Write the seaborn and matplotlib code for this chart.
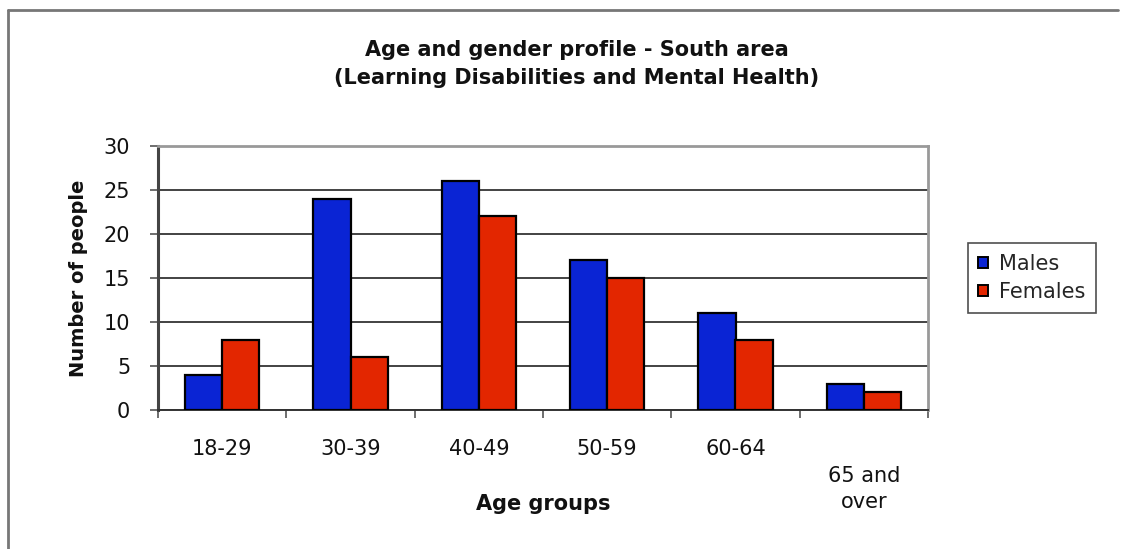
import matplotlib
matplotlib.use("Agg")
import matplotlib.pyplot as plt
import matplotlib.lines as mlines
import seaborn as sns
import pandas as pd
import numpy as np

categories = ["18-29", "30-39", "40-49", "50-59", "60-64", "65 and over"]
tick_labels = ["18-29", "30-39", "40-49", "50-59", "60-64", "\n65 and\nover"]
males = [4, 24, 26, 17, 11, 3]
females = [8, 6, 22, 15, 8, 2]
series_names = ["Males", "Females"]
colors = ["#0a24d4", "#e32600"]

sns.set_theme(style="white")
plt.rcParams["font.family"] = ["DejaVu Sans"]

df = pd.DataFrame({
    "Age groups": categories * 2,
    "Number of people": males + females,
    "Series": [series_names[0]] * len(categories) + [series_names[1]] * len(categories),
})

W, H = 1121, 549
fig = plt.figure(figsize=(W / 100, H / 100), dpi=100)
ax = fig.add_axes([158 / W, 1 - 410 / H, (928 - 158) / W, (410 - 146) / H])

sns.barplot(data=df, x="Age groups", y="Number of people", hue="Series",
            palette=colors, width=0.58, edgecolor="black", linewidth=1.6,
            saturation=1, ax=ax, zorder=3)

ax.set_xlim(-0.5, 5.5)
ax.set_ylim(0, 30)
ax.set_yticks(np.arange(0, 31, 5))
ax.yaxis.grid(True, color="#222222", linewidth=1.2, zorder=0)
ax.tick_params(axis="y", length=6, width=1.2, color="#555555", pad=14,
               labelsize=15, labelcolor="#111111", left=True)

# category labels centred, ticks on category boundaries
ax.set_xticks(np.arange(-0.5, 6, 1))
ax.set_xticklabels([])
ax.set_xticks(np.arange(6), minor=True)
ax.set_xticklabels(tick_labels, minor=True, fontsize=15, color="#111111",
                   linespacing=1.4)
ax.tick_params(axis="x", which="major", length=6, width=1.2, color="#555555",
               bottom=True)
ax.tick_params(axis="x", which="minor", length=0, pad=21)

ax.spines["left"].set_color("#444444")
ax.spines["left"].set_linewidth(2.2)
ax.spines["bottom"].set_color("#333333")
ax.spines["bottom"].set_linewidth(1.4)
ax.spines["right"].set_color("#999999")
ax.spines["right"].set_linewidth(2)
ax.spines["top"].set_color("#999999")
ax.spines["top"].set_linewidth(2)

ax.set_xlabel("Age groups", fontsize=15, fontweight="bold", color="#111111")
ax.xaxis.set_label_coords(0.5, -(504 - 410) / 264)
ax.xaxis.label.set_va("center")
ax.set_ylabel("Number of people", fontsize=14, fontweight="bold", color="#111111")
ax.yaxis.set_label_coords(-(158 - 78) / 770, 0.5)
ax.yaxis.label.set_va("center")

fig.text(577 / W, 1 - 64 / H,
         "Age and gender profile - South area\n(Learning Disabilities and Mental Health)",
         ha="center", va="center", fontsize=15, fontweight="bold",
         color="#111111", linespacing=1.45)

leg = ax.legend(loc="center", bbox_to_anchor=(1032 / W, 1 - 278 / H),
                bbox_transform=fig.transFigure, frameon=True, fancybox=False,
                fontsize=15, handlelength=0.45, handleheight=0.45,
                handletextpad=0.55, borderpad=0.5, labelspacing=0.4,
                borderaxespad=0)
leg.get_frame().set_edgecolor("#222222")
leg.get_frame().set_linewidth(1.2)
for h in leg.legend_handles:
    h.set_edgecolor("black")
    h.set_linewidth(1.4)

# outer chart border (top and left)
fig.add_artist(mlines.Line2D([8 / W, 1118 / W], [1 - 10 / H, 1 - 10 / H],
                             transform=fig.transFigure, color="#777777", linewidth=2))
fig.add_artist(mlines.Line2D([8 / W, 8 / W], [1 - 10 / H, 0],
                             transform=fig.transFigure, color="#777777", linewidth=2))

fig.savefig("out.png", dpi=100)
